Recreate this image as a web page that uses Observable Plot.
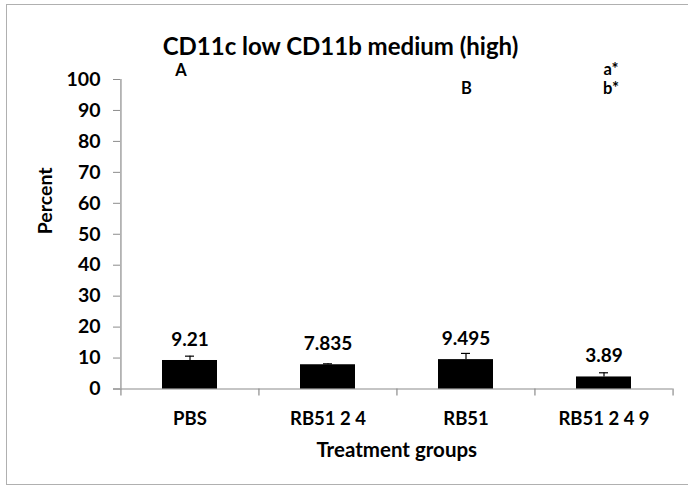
<!DOCTYPE html>
<html>
<head>
<meta charset="utf-8">
<script src="https://cdn.jsdelivr.net/npm/d3@7"></script>
<script src="https://cdn.jsdelivr.net/npm/@observablehq/plot@0.6"></script>
<style>
  html, body { margin: 0; padding: 0; background: #fff; overflow: hidden; width: 688px; height: 488px; }
  #wrap { position: relative; width: 688px; height: 488px; }
  #border { position: absolute; left: 6px; top: 4px; width: 720px; height: 481px; border: 1.5px solid #b0b0b0; box-sizing: border-box; pointer-events: none; }
  #chart { position: absolute; left: 0; top: 0; }
</style>
</head>
<body>
<div id="wrap"><div id="chart"></div><div id="border"></div></div>
<script>
// ---- data ----
const groups = ["PBS", "RB51 2 4", "RB51", "RB51 2 4 9"];
const means = [9.21, 7.835, 9.495, 3.89];
const errors = [1.4, 0.3, 2.0, 1.35];
const yTicks = [0, 10, 20, 30, 40, 50, 60, 70, 80, 90, 100];
const title = "CD11c low CD11b medium (high)";
const yTitle = "Percent";
const xTitle = "Treatment groups";
const letterRow1 = ["A", "", "", "a*"];
const letterRow2 = ["", "", "B", "b*"];

const data = groups.map((g, i) => ({group: g, mean: means[i], err: errors[i]}));

// ---- layout ----
const W = 688, H = 488;
const mL = 120, mR = 15.5, mT = 79, mB = 99.5;
const step = (W - mL - mR) / 4;
const frameH = H - mT - mB;
const axisColor = "#8c8c8c";
const font = "Lato, 'Open Sans', sans-serif";

const chart = Plot.plot({
  width: W, height: H,
  marginLeft: mL, marginRight: mR, marginTop: mT, marginBottom: mB,
  style: {fontFamily: font, fontWeight: "bold", background: "transparent", color: "black", overflow: "visible"},
  x: {domain: groups, paddingInner: 0.6, paddingOuter: 0.3, label: null},
  y: {domain: [0, 100], label: null},
  marks: [
    // y axis line
    Plot.tickX(groups.slice(0, 1), {x: d => d, dx: -step / 2, stroke: axisColor, strokeWidth: 1.2}),
    // category boundary ticks
    Plot.tickX(groups, {x: d => d, dx: -step / 2, insetTop: frameH, insetBottom: -7, stroke: axisColor, strokeWidth: 1.2}),
    Plot.tickX(groups.slice(-1), {x: d => d, dx: step / 2, insetTop: frameH, insetBottom: -7, stroke: axisColor, strokeWidth: 1.2}),
    // x axis baseline
    Plot.ruleY([0], {stroke: axisColor, strokeWidth: 1.2, insetLeft: -7}),
    Plot.axisY({ticks: yTicks, tickSize: 7, tickPadding: 13, stroke: axisColor, fontSize: 19.5, fontWeight: "bold", fill: "black"}),
    Plot.axisX({tickSize: 0, tickPadding: 23, fontSize: 18.5, fontWeight: "bold", fill: "black"}),
    Plot.barY(data, {x: "group", y: "mean", fill: "black"}),
    Plot.ruleX(data, {x: "group", y1: "mean", y2: d => d.mean + d.err, stroke: "black", strokeWidth: 1.2}),
    Plot.tickY(data, {x: "group", y: d => d.mean + d.err, insetLeft: 23, insetRight: 23, stroke: "black", strokeWidth: 1.2}),
    Plot.text(data, {x: "group", y: "mean", text: d => String(d.mean), dy: -21, fontSize: 19, fontWeight: "bold", fill: "black"}),
    // significance letters
    Plot.text([0], {x: () => groups[0], text: () => letterRow1[0], frameAnchor: "top", dy: -15, dx: -9, fontSize: 16.5, fontWeight: "bold"}),
    Plot.text([0], {x: () => groups[3], text: () => letterRow1[3], frameAnchor: "top", dy: -16, dx: 7, fontSize: 16.5, fontWeight: "bold"}),
    Plot.text([0], {x: () => groups[2], text: () => letterRow2[2], frameAnchor: "top", dy: 3, dx: 0.5, fontSize: 16.5, fontWeight: "bold"}),
    Plot.text([0], {x: () => groups[3], text: () => letterRow2[3], frameAnchor: "top", dy: 3, dx: 7, fontSize: 16.5, fontWeight: "bold"}),
    // titles
    Plot.text([title], {text: d => d, frameAnchor: "top", dy: -42, dx: 340 - (mL + (W - mL - mR) / 2), fontSize: 24, fontWeight: "bold"}),
    Plot.text([xTitle], {text: d => d, frameAnchor: "bottom", dy: 68, fontSize: 20.5, fontWeight: "bold"}),
    Plot.text([yTitle], {text: d => d, frameAnchor: "left", rotate: -90, dx: -75, fontSize: 19.5, fontWeight: "bold"})
  ]
});
document.getElementById("chart").appendChild(chart);
</script>
</body>
</html>
